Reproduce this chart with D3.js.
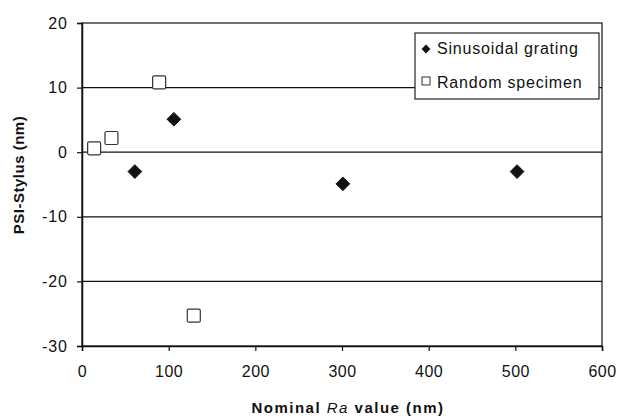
<!DOCTYPE html>
<html>
<head>
<meta charset="utf-8">
<script src="https://cdn.jsdelivr.net/npm/d3@7"></script>
<style>
  body { margin: 0; background: #fff; }
  svg text { font-family: "Liberation Sans", Arial, sans-serif; }
</style>
</head>
<body>
<div id="chart"></div>
<script>
// data
var sinX = [61, 106, 301, 502];
var sinY = [-3, 5.1, -4.9, -3];
var randX = [14, 34, 89, 129];
var randY = [0.6, 2.2, 10.8, -25.3];
var xTicks = [0, 100, 200, 300, 400, 500, 600];
var yTicks = [-30, -20, -10, 0, 10, 20];
var seriesNames = ['Sinusoidal grating', 'Random specimen'];

var W = 619, H = 420;
var m = { left: 82, right: 17, top: 23, bottom: 74 };

var svg = d3.select('#chart').append('svg')
    .attr('width', W)
    .attr('height', H);

var x = d3.scaleLinear().domain([0, 600]).range([m.left, W - m.right]);
var y = d3.scaleLinear().domain([-30, 20]).range([H - m.bottom, m.top]);

// gridlines
svg.selectAll('line.grid')
    .data(yTicks.filter(function (d) { return d > -30 && d < 20; }))
    .enter().append('line')
    .attr('class', 'grid')
    .attr('x1', x(0)).attr('x2', x(600))
    .attr('y1', function (d) { return y(d); })
    .attr('y2', function (d) { return y(d); })
    .attr('stroke', '#111').attr('stroke-width', 1.2);

// frame
svg.append('rect')
    .attr('x', x(0)).attr('y', y(20))
    .attr('width', x(600) - x(0)).attr('height', y(-30) - y(20))
    .attr('fill', 'none').attr('stroke', '#111').attr('stroke-width', 1.2);

// axes
var xAxis = svg.append('g')
    .attr('transform', 'translate(0,' + y(-30) + ')')
    .call(d3.axisBottom(x).tickValues(xTicks).tickSize(5).tickPadding(15));
var yAxis = svg.append('g')
    .attr('transform', 'translate(' + x(0) + ',0)')
    .call(d3.axisLeft(y).tickValues(yTicks).tickSize(5).tickPadding(9));

[xAxis, yAxis].forEach(function (a) {
    a.select('.domain').attr('stroke', '#111').attr('stroke-width', 1.5);
    a.selectAll('.tick line').attr('stroke', '#111').attr('stroke-width', 1.2);
    a.selectAll('.tick text')
        .attr('fill', '#111')
        .style('font-size', '16px')
        .style('letter-spacing', '0.5px')
        .style('font-family', '"Liberation Sans", Arial, sans-serif');
});
yAxis.selectAll('.tick text').text(function (d) { return d < 0 ? '-' + Math.abs(d) : d; })
    .style('letter-spacing', '1px');

// axis titles
svg.append('text')
    .attr('transform', 'translate(24,175) rotate(-90)')
    .attr('text-anchor', 'middle')
    .style('font-size', '15px').style('font-weight', 'bold')
    .style('letter-spacing', '0.5px')
    .attr('fill', '#111')
    .text('PSI-Stylus (nm)');

var xt = svg.append('text')
    .attr('x', 348)
    .attr('y', 413)
    .attr('text-anchor', 'middle')
    .style('font-size', '15px').style('font-weight', 'bold')
    .style('letter-spacing', '1.5px')
    .attr('fill', '#111');
xt.append('tspan').text('Nominal ');
xt.append('tspan').style('font-style', 'italic').style('font-weight', 'normal').text('Ra');
xt.append('tspan').text(' value (nm)');

// points
var diamond = d3.symbol().type(d3.symbolDiamond2).size(120);
var sinData = sinX.map(function (v, i) { return [v, sinY[i]]; });
var randData = randX.map(function (v, i) { return [v, randY[i]]; });

svg.selectAll('path.sin')
    .data(sinData)
    .enter().append('path')
    .attr('class', 'sin')
    .attr('d', diamond)
    .attr('transform', function (d) { return 'translate(' + x(d[0]) + ',' + y(d[1]) + ')'; })
    .attr('fill', '#111').attr('stroke', '#111');

svg.selectAll('rect.rand')
    .data(randData)
    .enter().append('rect')
    .attr('class', 'rand')
    .attr('x', function (d) { return x(d[0]) - 6.5; })
    .attr('y', function (d) { return y(d[1]) - 6.5; })
    .attr('width', 13).attr('height', 13).attr('rx', 1.5)
    .attr('fill', '#fff').attr('stroke', '#333').attr('stroke-width', 1.2);

// legend
var lg = svg.append('g').attr('transform', 'translate(415,33)');
lg.append('rect')
    .attr('width', 184).attr('height', 66)
    .attr('fill', '#fff').attr('stroke', '#222').attr('stroke-width', 1.2);
lg.append('path')
    .attr('d', d3.symbol().type(d3.symbolDiamond2).size(50))
    .attr('transform', 'translate(11,16)')
    .attr('fill', '#111');
lg.append('rect')
    .attr('x', 7).attr('y', 44).attr('width', 8).attr('height', 8)
    .attr('fill', '#fff').attr('stroke', '#333');
lg.selectAll('text.lab')
    .data(seriesNames)
    .enter().append('text')
    .attr('class', 'lab')
    .attr('x', 22)
    .attr('y', function (d, i) { return 21 + i * 34; })
    .style('font-size', '16px')
    .style('letter-spacing', '0.8px')
    .attr('fill', '#111')
    .text(function (d) { return d; });
</script>
</body>
</html>
